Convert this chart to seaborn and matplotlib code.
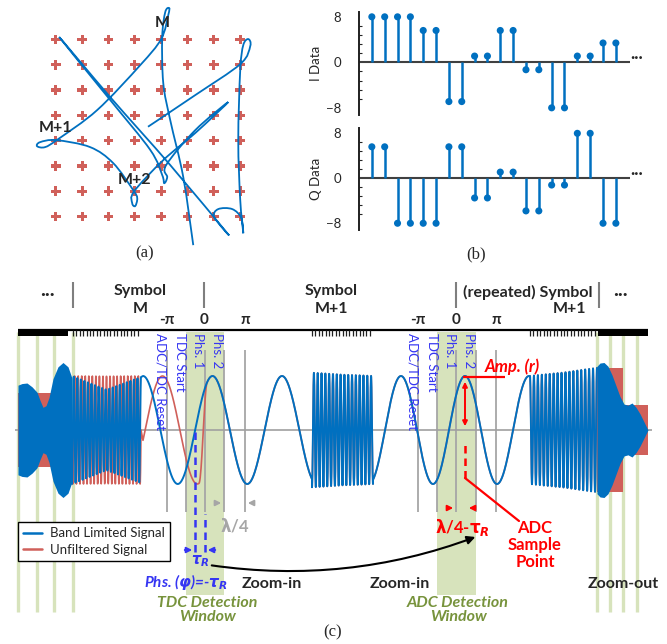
import numpy as np
import matplotlib
matplotlib.use('Agg')
import matplotlib.pyplot as plt
import seaborn as sns
from matplotlib.path import Path
from matplotlib.patches import PathPatch, FancyArrowPatch, Rectangle
from matplotlib.lines import Line2D
from matplotlib.ticker import MultipleLocator

sns.set_style('white')
plt.rcParams['font.family'] = ['Lato', 'DejaVu Sans']
plt.rcParams['mathtext.fontset'] = 'dejavusans'

BLUE = '#0070C0'
RED = '#D0605A'
TXT_BLUE = '#3535F2'
GREEN_BG = '#D7E3BC'
GREEN_TXT = '#77933C'
GRAY = '#A6A6A6'
SERIF = ['Liberation Serif', 'DejaVu Serif']

# ---------- (a) constellation + trajectory ----------
levels = [-7, -5, -3, -1, 1, 3, 5, 7]
# trajectory waypoints (I, Q), starts at origin
traj_i = [0.0, 3.59, 7.01, 7.77, 7.62, 7.24, 7.01, 6.86, 7.01, 7.24, 7.09, 6.40, 5.34, 5.03,
          6.02, 1.69, -2.87, -6.75, -2.87, 0.17, 1.08, 1.23, 1.46, 1.38, 3.59, 6.10, 3.59,
          1.16, -1.05, -1.20, -0.97, -0.82, -1.13, -2.65, -4.40, -6.98, -8.20, -8.43, -7.82,
          -6.83, -3.86, -0.59, 1.00, 1.54, 1.61, 1.31, 1.08, 1.16, 1.69, 2.68, 3.44]
traj_q = [0.1, 2.60, 5.05, 6.47, 7.03, 6.55, 4.58, -0.96, -5.70, -8.31, -7.12, -6.41, -6.41, -7.04,
          -8.31, -2.93, 2.44, 7.19, 2.21, -1.73, -3.72, -4.36, -3.88, -2.93, -0.17, 2.05, -0.40,
          -2.54, -5.00, -5.94, -6.17, -5.54, -4.90, -2.77, -1.51, -0.96, -1.12, -1.44, -1.51,
          -0.88, 1.42, 4.97, 7.03, 8.93, 9.48, 9.16, 7.19, 3.55, 0.62, -3.88, -9.26]
sym_names = ['M', 'M+1', 'M+2']
sym_label_pos = [(1.05, 8.3), (-7.0, 0.0), (-1.0, -4.1)]

# ---------- (b) I / Q data ----------
i_data = [8, 8, 8, 8, 5.6, 5.6, -6.9, -6.9, 1.1, 1.1, 5.6, 5.6, -1.3, -1.3, -8, -8, 1.1, 1.1, 3.4, 3.4]
q_data = [5.6, 5.6, -8, -8, -8, -8, 5.6, 5.6, -3.5, -3.5, 1.1, 1.1, -5.8, -5.8, -1.2, -1.2, 8, 8, -8, -8]

# ---------- (c) waveform segments (time in ruler units) ----------
fast_t0 = [72, 312, 530]
fast_t1 = [141, 373, 597]
fast_cycles = [19.5, 16, 17]
fast_env = [[1.0, 0.75, 0.98], [1.06, 1.03, 1.0], [1.0, 1.07, 1.15]]
fast_phase = [np.pi, np.pi, 0.0]
slow_t0 = [143, 373]
slow_t1 = [312, 530]
slow_period = [69.5, 64.0]
slow_crest = [143, 401]
red_shift_t = [143, 199, 207]     # unfiltered lags, then snaps onto band limited
red_slow_crest = 162.5
left_env_t = [18, 22, 27, 32, 37, 40, 43, 46, 49, 53, 58, 63, 68, 72]
left_env_a = [0.83, 0.86, 0.87, 0.80, 0.70, 0.55, 0.42, 0.45, 0.60, 0.95, 1.17, 1.25, 1.17, 0.96]
right_env_t = [597, 600, 604, 608, 612, 616, 620, 624, 628, 632, 636, 640, 644, 648]
right_env_a = [1.18, 1.24, 1.25, 1.18, 1.02, 0.82, 0.62, 0.48, 0.46, 0.50, 0.42, 0.30, 0.15, 0.0]
red_left_t = [18, 72]
red_left_a = [0.69, 0.69]
red_right_t = [597, 623, 623, 648]
red_right_a = [1.15, 1.15, 0.46, 0.46]
phase_marks = [167, 186, 205, 224, 245, 418, 437, 456, 476, 496]
phase_names = ['-π', '0', 'π']
phase_name_t = [[167, 204, 245], [418, 456, 496]]
zoom_lines = [[18, 37, 54, 73], [597, 610, 623, 637]]
windows = [(186, 224), (437, 476)]
sym_sep = [73, 204, 456, 599]

fig = plt.figure(figsize=(6.67, 6.44), dpi=100)
W, H = 667.0, 644.0


def px_axes(x0, y0, x1, y1):
    return fig.add_axes([x0 / W, 1 - y1 / H, (x1 - x0) / W, (y1 - y0) / H])


# ================= (a) =================
ax_a = px_axes(23, 1.5, 273, 254.5)
ax_a.set_xlim(-9.5, 9.5)
ax_a.set_ylim(-10, 10)
ax_a.axis('off')
gx, gy = np.meshgrid(levels, levels)
sns.scatterplot(x=gx.ravel(), y=gy.ravel(), marker='P', s=48, color=RED,
                edgecolor='none', linewidth=0, ax=ax_a, zorder=1)

pts = np.column_stack([traj_i, traj_q])
ext = np.vstack([pts[0], pts, pts[-1]])
verts = [pts[0]]
codes = [Path.MOVETO]
for k in range(1, len(ext) - 2):
    p0, p1, p2, p3 = ext[k - 1], ext[k], ext[k + 1], ext[k + 2]
    verts += [p1 + (p2 - p0) / 6, p2 - (p3 - p1) / 6, p2]
    codes += [Path.CURVE4] * 3
ax_a.add_patch(PathPatch(Path(verts, codes), fill=False, edgecolor=BLUE, lw=1.3, zorder=2))
for name, (xx, yy) in zip(sym_names, sym_label_pos):
    ax_a.text(xx, yy, name, fontsize=11.5, fontweight='bold', ha='center', va='center', zorder=3)
fig.text(145 / W, 1 - 253 / H, '(a)', family=SERIF, fontsize=12, ha='center', va='center')

# ================= (b) =================
ax_i = px_axes(359, 11.7, 630, 115)
ax_q = px_axes(359, 127.7, 630, 230)
idx = np.arange(len(i_data))
for ax, vals, lab, lims in [(ax_i, i_data, 'I Data', (-9.26, 8.9)), (ax_q, q_data, 'Q Data', (-9.2, 9.0))]:
    ax.set_xlim(-1.0, 20.1)
    ax.set_ylim(*lims)
    ax.vlines(idx, 0, vals, color=BLUE, lw=1.8, zorder=2)
    sns.scatterplot(x=idx, y=vals, s=26, color=BLUE, edgecolor='none', ax=ax, zorder=3)
    ax.axhline(0, color='#404040', lw=1.5, zorder=1)
    for s in ['top', 'right', 'bottom']:
        ax.spines[s].set_visible(False)
    ax.spines['left'].set_color('#202020')
    ax.spines['left'].set_linewidth(1.4)
    ax.set_xticks([])
    ax.set_yticks([-8, 0, 8])
    ax.yaxis.set_minor_locator(MultipleLocator(1.6))
    ax.tick_params(axis='y', which='major', direction='in', length=3, width=1, pad=13, labelsize=9.5)
    ax.tick_params(axis='y', which='minor', direction='in', length=2.2, width=0.8, left=True)
    ax.set_ylabel(lab, fontsize=9.5)
    ax.yaxis.set_label_coords(-0.137, 0.5)
    ax.text(20.65, 1.6, '...', fontsize=13, fontweight='bold', ha='center', va='center', clip_on=False)
fig.text(476 / W, 1 - 254 / H, '(b)', family=SERIF, fontsize=12, ha='center', va='center')

# ================= (c) =================
ax_c = px_axes(0, 270, 667, 644)


def Y(p):
    return (430.0 - p) / 54.0


ax_c.set_xlim(0, 667)
ax_c.set_ylim(Y(644), Y(270))
ax_c.axis('off')

# green detection windows and zoom markers
for a, b in windows:
    ax_c.add_patch(Rectangle((a, Y(595)), b - a, Y(332) - Y(595), color=GREEN_BG, lw=0, zorder=0))
for grp in zoom_lines:
    ax_c.vlines(grp, Y(612), Y(332), color=GREEN_BG, lw=2.4, zorder=0)
ax_c.vlines(phase_marks, Y(512), Y(350), color=GRAY, lw=1.3, zorder=1)
ax_c.hlines(0, 15, 652, color='#A0A0A0', lw=1.2, zorder=1)

# band limited signal
blue_t, blue_y = [], []
for t0, t1, cyc, env, ph in zip(fast_t0, fast_t1, fast_cycles, fast_env, fast_phase):
    t = np.linspace(t0, t1, int(cyc * 28))
    amp = np.interp(t, [t0, (t0 + t1) / 2, t1], env)
    blue_t.append(t)
    blue_y.append(amp * np.cos(2 * np.pi * cyc * (t - t0) / (t1 - t0) + ph))
for t0, t1, per, cr in zip(slow_t0, slow_t1, slow_period, slow_crest):
    t = np.linspace(t0, t1, 400)
    blue_t.append(t)
    blue_y.append(np.cos(2 * np.pi * (t - cr) / per))
order = [0, 3, 1, 4, 2]
bt = np.concatenate([blue_t[k] for k in order])
by = np.concatenate([blue_y[k] for k in order])

# unfiltered signal: constant amplitude fast part, lagging slow part
t = blue_t[0]
ry_fast = np.cos(2 * np.pi * fast_cycles[0] * (t - t[0]) / (t[-1] - t[0]) + np.pi / 2)
rt_slow = blue_t[3]
lag = np.cos(2 * np.pi * (rt_slow - red_slow_crest) / slow_period[0])
w = np.clip((rt_slow - red_shift_t[1]) / (red_shift_t[2] - red_shift_t[1]), 0, 1)
w = w * w * (3 - 2 * w)
ry_slow = (1 - w) * lag + w * blue_y[3]
rt = np.concatenate([t, rt_slow, blue_t[1], blue_t[4], blue_t[2]])
ry = np.concatenate([ry_fast, ry_slow, blue_y[1], blue_y[4], blue_y[2]])

ax_c.fill_between(red_left_t, [-a for a in red_left_a], red_left_a, color=RED, lw=0, zorder=2)
ax_c.fill_between(red_right_t, [-a for a in red_right_a], red_right_a, color=RED, lw=0, zorder=2)
sns.lineplot(x=rt, y=ry, color=RED, lw=1.2, estimator=None, sort=False, ax=ax_c, zorder=2)
ax_c.fill_between(left_env_t, [-a for a in left_env_a], left_env_a, color=BLUE, lw=0, zorder=3)
ax_c.fill_between(right_env_t, [-a for a in right_env_a], right_env_a, color=BLUE, lw=0, zorder=3)
sns.lineplot(x=bt, y=by, color=BLUE, lw=1.4, estimator=None, sort=False, ax=ax_c, zorder=3)

# top ruler
ax_c.hlines(Y(330), 18, 648, color='black', lw=1.6, zorder=4)
for a, b in [(18, 68), (598, 648)]:
    ax_c.add_patch(Rectangle((a, Y(336)), b - a, Y(330) - Y(336), color='black', lw=0, zorder=4))
for a, b in [(73, 141), (312, 373), (530, 597)]:
    ax_c.vlines(np.arange(a, b, 3.4), Y(336), Y(330), color='#202020', lw=0.9, zorder=4)
ax_c.vlines(sym_sep, Y(308), Y(282), color='#7F7F7F', lw=1.5)

hdr = dict(fontsize=11.5, fontweight='bold', ha='center', va='center')
ax_c.text(47, Y(290), '...', fontsize=15, fontweight='bold', ha='center', va='center')
ax_c.text(620, Y(290), '...', fontsize=15, fontweight='bold', ha='center', va='center')
ax_c.text(140, Y(291), 'Symbol', **hdr)
ax_c.text(140, Y(309), 'M', **hdr)
ax_c.text(331, Y(291), 'Symbol', **hdr)
ax_c.text(331, Y(309), 'M+1', **hdr)
ax_c.text(528, Y(292), '(repeated) Symbol', **hdr)
ax_c.text(570, Y(309), 'M+1', **hdr)
for grp in phase_name_t:
    for name, xx in zip(phase_names, grp):
        ax_c.text(xx, Y(320), name, fontsize=11, fontweight='bold', ha='center', va='center')

rot = dict(fontsize=9.5, color=TXT_BLUE, rotation=-90, ha='center', va='top', zorder=5)
for off in [0, 252]:
    ax_c.text(160 + off, Y(333), 'ADC/TDC Reset', **rot)
    ax_c.text(180 + off, Y(333), 'TDC Start', **rot)
    ax_c.text(198 + off, Y(333), 'Phs. 1', **rot)
    ax_c.text(217 + off, Y(333), 'Phs. 2', **rot)


def arrow(p, q, color, style='-|>', ms=8, lw=1.4, **kw):
    ax_c.add_patch(FancyArrowPatch((p[0], Y(p[1])), (q[0], Y(q[1])), arrowstyle=style,
                                   mutation_scale=ms, color=color, lw=lw, zorder=6, **kw))


# phase detection annotations
ax_c.vlines(195, Y(552), Y(430), color=TXT_BLUE, lw=1.8, linestyles=(0, (3, 2)), zorder=5)
ax_c.vlines(205, Y(552), Y(514), color=TXT_BLUE, lw=1.8, linestyles=(0, (3, 2)), zorder=5)
arrow((182, 550), (195, 550), TXT_BLUE)
arrow((218, 550), (205, 550), TXT_BLUE)
ax_c.text(200, Y(561), r'$\mathbfit{\tau}_{\mathbfit{R}}$', color=TXT_BLUE, fontsize=10.5,
          ha='center', va='center')
ax_c.text(186, Y(582), r'Phs. ($\mathbfit{\varphi}$)=-$\mathbfit{\tau}_{\mathbfit{R}}$',
          color=TXT_BLUE, fontsize=11, fontweight='bold', style='italic', ha='center', va='center')
arrow((213, 503), (224, 503), GRAY)
arrow((255, 503), (245, 503), GRAY)
ax_c.text(235, Y(525), r'$\mathbf{\lambda}$/4', color=GRAY, fontsize=12, fontweight='bold',
          ha='center', va='center')

# amplitude / ADC annotations
ax_c.hlines(Y(377), 463, 505, color='red', lw=1.6, zorder=6)
arrow((465, 379), (465, 429), 'red', style='<|-|>', ms=7)
ax_c.text(512, Y(367), 'Amp. (r)', color='red', fontsize=12, fontweight='bold', style='italic',
          ha='center', va='center')
ax_c.vlines(465, Y(478), Y(441), color='red', lw=1.8, linestyles=(0, (3, 2)), zorder=6)
ax_c.plot([465, 519], [Y(478), Y(521)], color='red', lw=1.6, zorder=6)
ax_c.text(535, Y(545), 'ADC\nSample\nPoint', color='red', fontsize=12, fontweight='bold',
          ha='center', va='center', linespacing=1.05)
arrow((446, 508), (456, 508), 'red')
arrow((476, 508), (466, 508), 'red')
ax_c.text(462, Y(528), r'$\mathbf{\lambda}$/4-$\mathbf{\tau}_{\mathbfit{R}}$', color='red', fontsize=12,
          fontweight='bold', ha='center', va='center')

# zoom arrows and labels
arrow((209, 565), (478, 536), 'black', ms=12, lw=1.5, connectionstyle='arc3,rad=0.13')
zt = dict(fontsize=11.5, fontweight='bold', ha='center', va='center')
ax_c.text(272, Y(584), 'Zoom-in', **zt)
ax_c.text(400, Y(584), 'Zoom-in', **zt)
ax_c.text(623, Y(584), 'Zoom-out', **zt)
gt = dict(fontsize=11.5, fontweight='bold', style='italic', color=GREEN_TXT, ha='center',
          va='center', linespacing=0.95)
ax_c.text(207, Y(610), 'TDC Detection\nWindow', **gt)
ax_c.text(458, Y(610), 'ADC Detection\nWindow', **gt)

handles = [Line2D([], [], color=BLUE, lw=1.8), Line2D([], [], color=RED, lw=1.8)]
ax_c.legend(handles, ['Band Limited Signal', 'Unfiltered Signal'], loc='upper left',
            bbox_to_anchor=(18, Y(522)), bbox_transform=ax_c.transData, borderaxespad=0,
            fontsize=9.5, frameon=True, fancybox=False, framealpha=1, edgecolor='black',
            handlelength=1.4, labelspacing=0.35, borderpad=0.4, handletextpad=0.6)
fig.text(333 / W, 1 - 632 / H, '(c)', family=SERIF, fontsize=12, ha='center', va='center')

fig.savefig('out.png', dpi=100)
